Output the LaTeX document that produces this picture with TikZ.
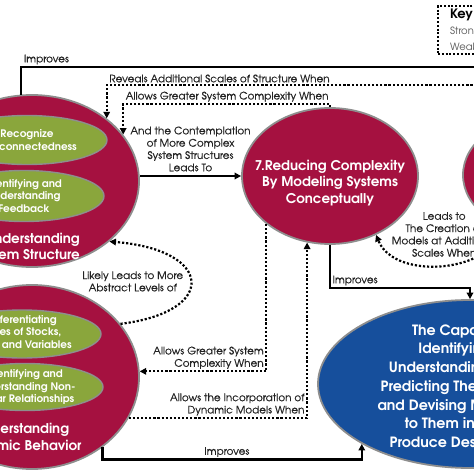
\documentclass[tikz,border=0pt]{standalone}
\usepackage{fontspec}
\setmainfont{texgyreadventor-regular.otf}[BoldFont=texgyreadventor-bold.otf]
\newfontfamily\labfont{texgyreadventor-regular.otf}[FakeBold=0.6]
\usetikzlibrary{positioning,arrows.meta,shapes.geometric}
\definecolor{skillred}{HTML}{A51140}
\definecolor{skillgreen}{HTML}{8AA63C}
\definecolor{goalblue}{HTML}{164F9C}
\definecolor{rimgrey}{HTML}{8E8E8E}
\definecolor{inkgrey}{HTML}{222222}
\definecolor{keygrey}{HTML}{555555}
\tikzset{
  blob/.style     = {ellipse, draw=rimgrey, line width=1.8pt, fill=skillred,
                     inner sep=0pt},
  skill/.style    = {blob, line width=1.4pt, fill=skillgreen},
  goal/.style     = {blob, fill=goalblue},
  skilltxt/.style = {text=white, align=center, inner sep=0pt,
                     font=\fontsize{10.4}{12.4}\selectfont\bfseries},
  ttl/.style      = {text=white, inner sep=0pt,
                     font=\fontsize{13.4}{16.3}\selectfont\bfseries},
  goaltxt/.style  = {text=white, align=center, inner sep=0pt,
                     font=\fontsize{14.2}{18.7}\selectfont\bfseries},
  arr/.style      = {-{Triangle[length=6.5pt,width=6.5pt]}, line width=2.2pt},
  arrd/.style     = {arr, dash pattern=on 2.2pt off 1.9pt},
  lab/.style      = {font=\fontsize{10.4}{12.3}\selectfont\labfont, text=inkgrey,
                     inner sep=1.5pt},
  keybox/.style   = {draw, line width=2pt, dash pattern=on 2pt off 1.8pt,
                     anchor=north west, text width=70pt, align=left,
                     inner xsep=12pt, inner ysep=3pt,
                     font=\fontsize{10}{16}\selectfont},
}

\begin{document}
\begin{tikzpicture}[x=1pt, y=-1pt]
  \useasboundingbox (0,0) rectangle (474,474);
  \clip (0,0) rectangle (474,474);

  % ---------------- Key ----------------
  \node[keybox] (key) at (437,5)
    {{\fontsize{13}{16}\selectfont\bfseries Key}\\
     {\color{keygrey}Strong}\\
     {\color{keygrey}Weak}};

  % ---------------- System structure ----------------
  \node[blob, minimum width=214pt, minimum height=172pt] (struct) at (32,181) {};
  \node[skill, minimum width=160pt, minimum height=49pt,
    label={[skilltxt]center:{Recognize\\Interconnectedness}}] (recog) at (27,140) {};
  \node[skill, minimum width=160pt, minimum height=51pt,
    label={[skilltxt]center:{Identifying and\\Understanding\\Feedback}}] (feedb) at (24,196) {};
  \node[ttl, align=right, anchor=north east] (structlbl) at (80,233)
    {Understanding\\System Structure};

  % ---------------- Dynamic behaviour ----------------
  \node[blob, minimum width=214pt, minimum height=184pt] (dyn) at (32,377) {};
  \node[skill, minimum width=158pt, minimum height=48pt,
    label={[skilltxt, yshift=2pt]center:{Differentiating\\Types of Stocks,\\Flows and Variables}}] (stocks) at (22,334) {};
  \node[skill, minimum width=156pt, minimum height=47pt,
    label={[skilltxt]center:{Identifying and\\Understanding Non-\\Linear Relationships}}] (nonlin) at (25,387) {};
  \node[ttl, align=center] (dynlbl) at (22,438) {Understanding\\Dynamic Behavior};

  % ---------------- Modeling, scales, goal ----------------
  \node[blob, minimum width=176pt, minimum height=136pt,
    label={[ttl, align=center, yshift=-7pt]center:{7.Reducing Complexity\\By Modeling Systems\\Conceptually}}] (reduce) at (330,176) {};
  \node[blob, minimum width=154pt, minimum height=116pt] (scales) at (540,175) {};
  \node[goal, minimum width=304pt, minimum height=168pt,
    label={[goaltxt, yshift=-2pt]center:{The Capability of\\Identifying and\\Understanding Systems,\\Predicting Their Behaviors,\\and Devising Modifications\\to Them in Order to\\Produce Desired Effects}}] (capab) at (470,384) {};

  % ---------------- Links ----------------
  \coordinate (topend) at (500,67);
  \draw[arr] (struct.97) |- node[lab, above right]{Improves} (topend);
  \draw[arrd] (scales.north) -- ++(0,-31)
    -| node[lab, above right]{Reveals Additional Scales of Structure When} (struct.40);
  \draw[arrd] (reduce.north) -- ++(0,-3)
    -| node[lab, above right]{Allows Greater System Complexity When} (struct.27);
  \draw[arr] (struct.east |- reduce.west) -- node[lab, above=2pt, align=center]
    {And the Contemplation\\of More Complex\\System Structures\\Leads To} (reduce.west);
  \draw[arrd] (dyn.31) .. controls (218,312) and (214,250) ..
    node[lab, left=5pt, align=center]{Likely Leads to More\\Abstract Levels of} (struct.-38);
  \draw[arrd] (reduce.217) |- node[lab, above left, align=right]
    {Allows Greater System\\Complexity When} (dyn.3);
  \draw[arrd] (dyn.-23) -| node[lab, above left, align=right]
    {Allows the Incorporation of\\Dynamic Models When} (reduce.-109);
  \draw[arr] (dyn.-45) -- ++(0,12) -| node[lab, above, pos=.24]{Improves} (capab.-151);
  \draw[arr] (reduce.south) -- ++(0,43) -| node[lab, above right, pos=0]{Improves} (capab.north);
  \draw[arrd] (scales.-127) .. controls (497,272) and (395,282) ..
    node[lab, above=6pt, align=center]{Leads to\\The Creation of\\Models at Additional\\Scales When} (reduce.-52);
\end{tikzpicture}
\end{document}
